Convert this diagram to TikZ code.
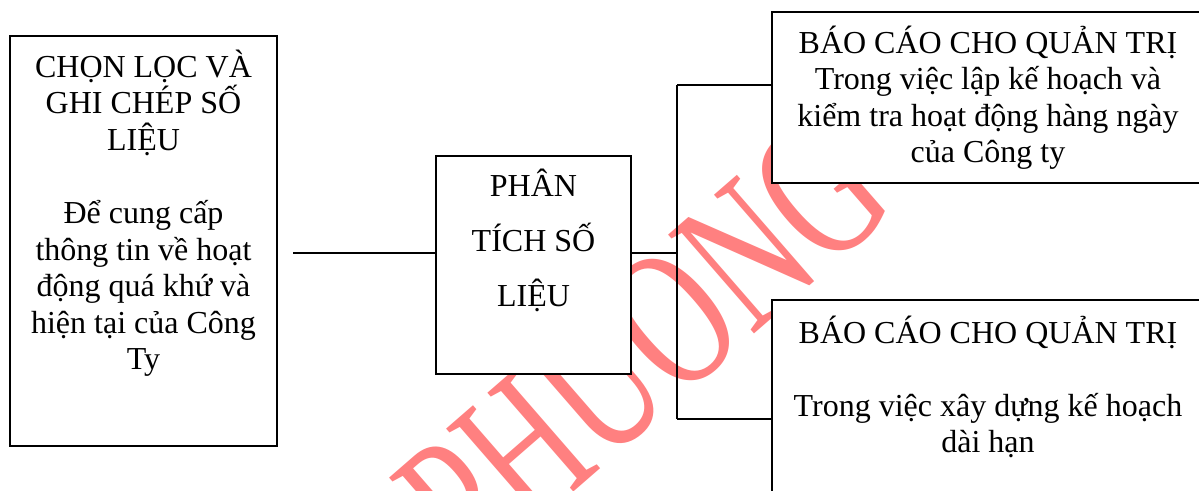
\documentclass[tikz,border=0pt]{standalone}
\usepackage{fontspec}
\setmainfont{Liberation Serif}
\definecolor{wmred}{RGB}{255,128,128}
\tikzset{
  box/.style={draw, line width=1.6pt, fill=white, inner sep=0pt},
  link/.style={draw, line width=1.1pt},
  txt/.style={anchor=base, inner sep=0pt, font=\fontsize{24pt}{27.45pt}\selectfont},
  wide/.style={anchor=base, inner sep=0pt, font=\fontsize{24pt}{41.25pt}\selectfont},
  mark text/.style={anchor=base west, inner sep=0pt, text=wmred, rotate=41,
    font=\fontsize{150pt}{150pt}\selectfont}
}
\begin{document}
\begin{tikzpicture}[x=0.75pt,y=-0.75pt]
\useasboundingbox (0,0) rectangle (1199,490);
\clip (0,0) rectangle (1199,490);
\fill[white] (0,0) rectangle (1199,490);
% watermark
\node[mark text] (wm) at (472,580) {\scalebox{0.68}[1]{PHUONG}};
% boxes
\node[box, minimum width=200.25pt, minimum height=307.5pt] (left) at (143.5,241) {};
\node[box, minimum width=146.25pt, minimum height=163.5pt] (mid) at (533.5,265) {};
\node[box, minimum width=324pt, minimum height=128.25pt] (tr) at (988,97.5) {};
\node[box, minimum width=324pt, minimum height=172.5pt] (br) at (988,415) {};
% texts
\node[txt] (lefttext) at (143.5,77) {\parbox[t]{195pt}{\centering\lineskiplimit=-100pt
CHỌN LỌC VÀ\\ GHI CHÉP SỐ\\ LIỆU\\ ~\\ Để cung cấp\\ thông tin về hoạt\\ động quá khứ và\\ hiện tại của Công\\ Ty}};
\node[wide] (midtext) at (533.5,196) {\parbox[t]{140pt}{\centering\lineskiplimit=-100pt
PHÂN\\ TÍCH SỐ\\ LIỆU}};
\node[txt] (trtext) at (988,53) {\parbox[t]{320pt}{\centering\lineskiplimit=-100pt
BÁO CÁO CHO QUẢN TRỊ\hspace{9pt}\\ Trong việc lập kế hoạch và\\ kiểm tra hoạt động hàng ngày\\ của Công ty}};
\node[txt] (brtext) at (988,343) {\parbox[t]{320pt}{\centering\lineskiplimit=-100pt
BÁO CÁO CHO QUẢN TRỊ\hspace{9pt}\\ ~\\ Trong việc xây dựng kế hoạch\\ dài hạn}};
% connectors
\coordinate (c1) at (293,253);
\coordinate (c2) at (677,253);
\coordinate (j1) at (677,85);
\coordinate (j2) at (677,419);
\draw[link] (c1) -- (c1 -| mid.west);
\draw[link] (c2 -| mid.east) -- (c2);
\draw[link] (j1) -- (j2);
\draw[link] (j1) -- (j1 -| tr.west);
\draw[link] (j2) -- (j2 -| br.west);
\end{tikzpicture}
\end{document}
